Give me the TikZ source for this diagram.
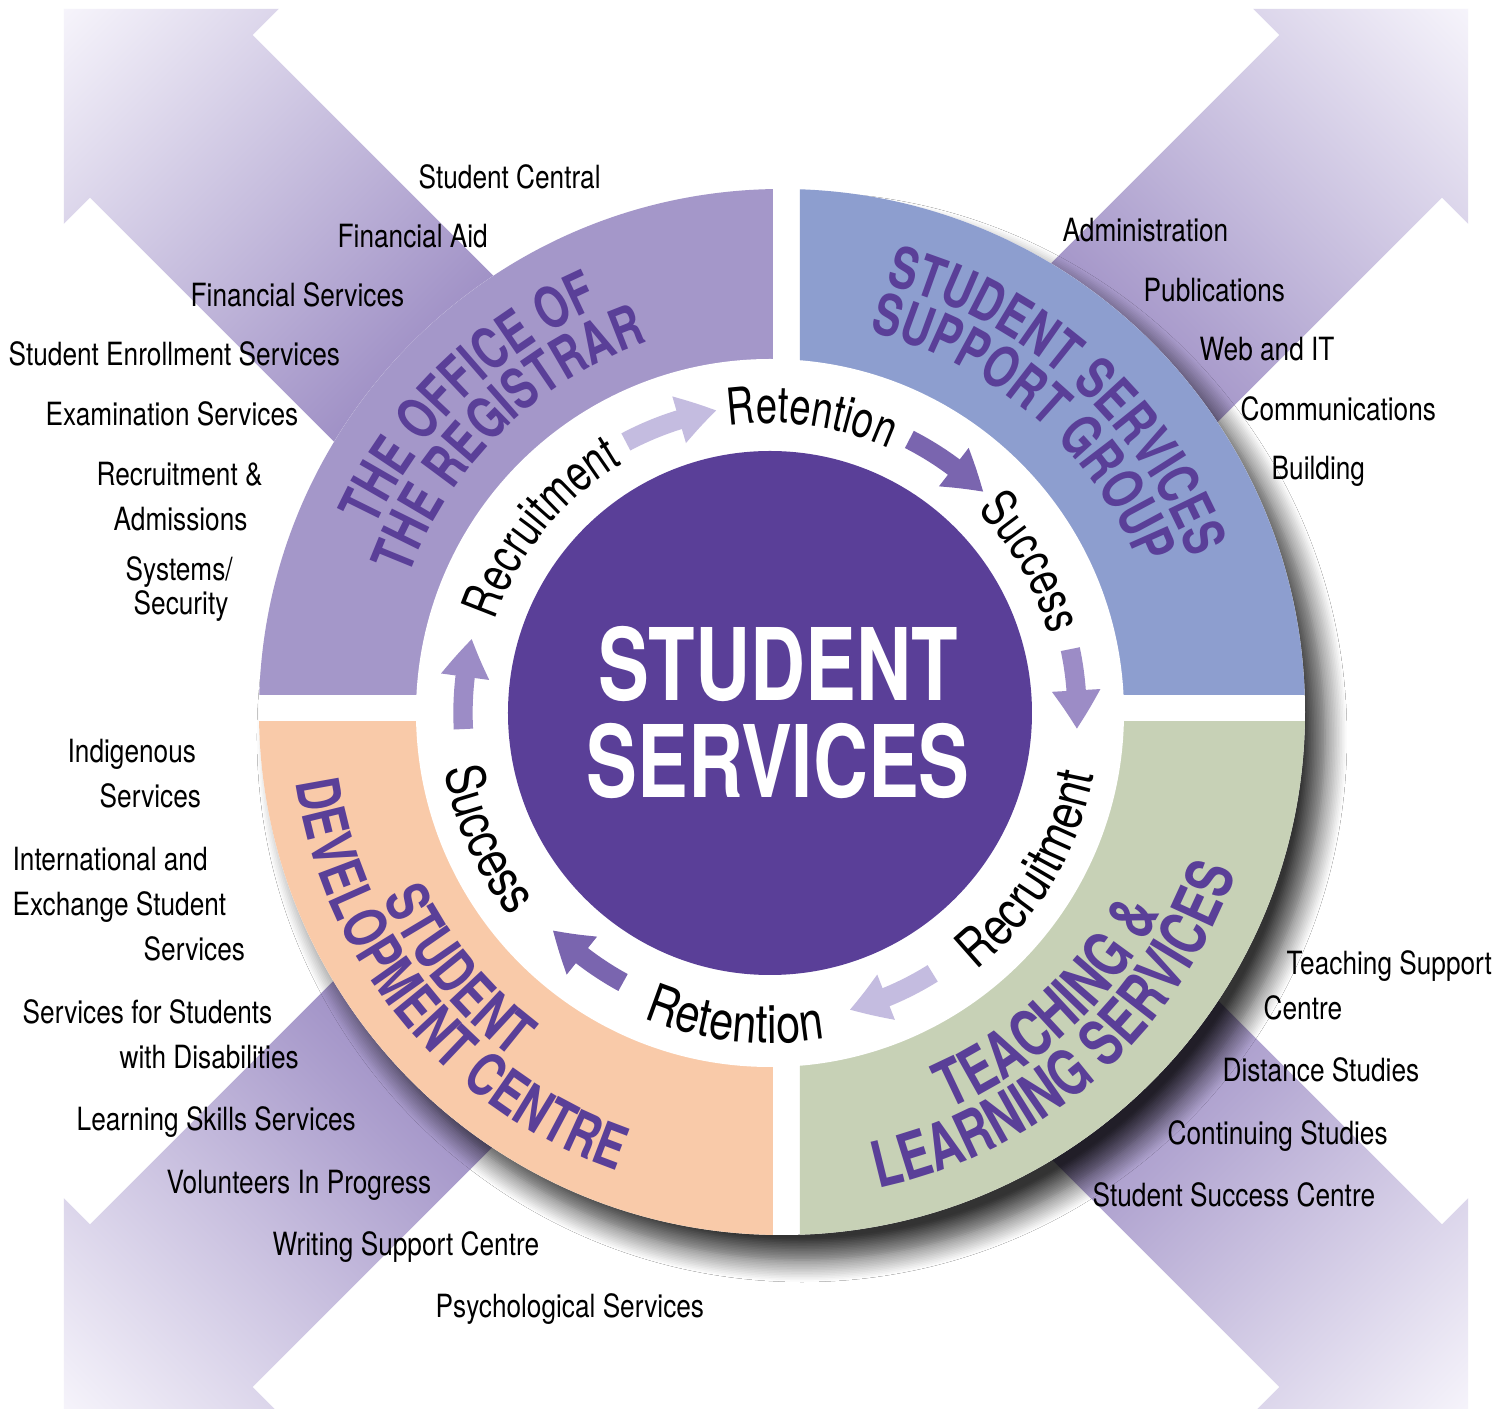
\documentclass[tikz,border=0pt]{standalone}
\usepackage{fontspec}
\setmainfont{TeX Gyre Heros}[FakeStretch=0.82]
\newfontfamily\labelfont{TeX Gyre Heros}[FakeStretch=0.74]
\newfontfamily\wordfont{TeX Gyre Heros}[FakeStretch=0.75]
\newfontfamily\lowwordfont{TeX Gyre Heros}[FakeStretch=0.81]
\newfontfamily\titlefont{TeX Gyre Heros}[FakeStretch=0.76]
\usetikzlibrary{arrows.meta,bending,decorations.text,shadows.blur}

\definecolor{regpurple}{HTML}{A497C9}
\definecolor{supportblue}{HTML}{8D9ECF}
\definecolor{teachgreen}{HTML}{C7D1B6}
\definecolor{devpeach}{HTML}{F9CAA9}
\definecolor{corepurple}{HTML}{5A3F98}
\definecolor{labelpurple}{HTML}{5A3F98}
\definecolor{arrowtip}{HTML}{F6F4FB}
\definecolor{arrowbase}{HTML}{A091C6}
\definecolor{lightarrow}{HTML}{C4BCE0}
\definecolor{midarrow}{HTML}{9C8CC6}
\definecolor{darkarrow}{HTML}{7A65AF}

\newcommand{\lblfmt}{\labelfont\bfseries\fontsize{17}{20}\selectfont}
\newcommand{\lblsmall}{\labelfont\bfseries\fontsize{16.3}{20}\selectfont}
\newcommand{\lblbig}{\labelfont\bfseries\fontsize{18.2}{21}\selectfont}
\newcommand{\wordfmt}{\wordfont\fontsize{14.5}{17}\selectfont}
\newcommand{\lowfmt}{\lowwordfont\fontsize{15.2}{18}\selectfont}

\tikzset{
  item/.style={anchor=base west, inner sep=0pt, font=\fontsize{9.1}{11}\selectfont},
  ringarrow/.style={line width=5.5pt, -{Triangle[width=13pt,length=11pt,bend]}},
}

% text on a clockwise arc (letters face outwards)
\newcommand{\cwtext}[6]{%
  \path[decorate, decoration={text along path, text align=center, text color=#5, text={|#4|#6}}]
    ([shift={(#3+70:#2)}]#1) arc[start angle=#3+70, end angle=#3-70, radius=#2];}
% text on a counter-clockwise arc (letters face the centre)
\newcommand{\ccwtext}[6]{%
  \path[decorate, decoration={text along path, text align=center, text color=#5, text={|#4|#6}}]
    ([shift={(#3-70:#2)}]#1) arc[start angle=#3-70, end angle=#3+70, radius=#2];}
% one of the four big arrows, drawn pointing up and turned
\newcommand{\bigarrow}[1]{%
  \begin{scope}[transform canvas={rotate=#1}]
    \shade[top color=arrowtip, bottom color=arrowbase, middle color=arrowbase]
      (-1.15,0) -- (-1.15,8.41) -- (-1.52,8.41) -- (0,9.93) -- (1.52,8.41) -- (1.15,8.41) -- (1.15,0) -- cycle;
  \end{scope}}

\begin{document}
\begin{tikzpicture}
  \useasboundingbox (-7.66,-6.98) rectangle (7.46,7.11);
  \fill[white] (-7.66,-6.98) rectangle (7.46,7.11);
  \clip (-7.66,-6.98) rectangle (7.46,7.11);
  \coordinate (ci) at (0.04,-0.02);
  \coordinate (co) at (0.16,-0.01);
  \coordinate (lc) at (0.10,-0.015);

  % arrows behind the wheel
  \foreach \a in {45,-45,135,-135} {\bigarrow{\a}}

  % the wheel
  \fill[white, blur shadow={shadow xshift=2mm, shadow yshift=-2.5mm, shadow blur radius=2.2mm, shadow blur steps=14, shadow opacity=80}] (co) circle (5.23);
  \begin{scope} \clip (-6,0.16) rectangle (0.07,6);  \fill[regpurple] (co) circle (5.23); \end{scope}
  \begin{scope} \clip (0.34,0.16) rectangle (6,6);   \fill[supportblue] (co) circle (5.23); \end{scope}
  \begin{scope} \clip (0.34,-0.11) rectangle (6,-6); \fill[teachgreen] (co) circle (5.23); \end{scope}
  \begin{scope} \clip (-6,-0.11) rectangle (0.07,-6); \fill[devpeach] (co) circle (5.23); \end{scope}
  \fill[white] (ci) circle (3.54);
  \fill[corepurple] (ci) circle (2.62);

  \node[align=center, text=white, font=\titlefont\bfseries\fontsize{28.5}{27.6}\selectfont] (title) at (0.12,-0.01) {STUDENT\\SERVICES};

  % unit names
  \cwtext{lc}{4.42}{134.4}{\lblsmall}{labelpurple}{THE OFFICE OF}
  \cwtext{lc}{3.92}{134.4}{\lblsmall}{labelpurple}{THE REGISTRAR}
  \cwtext{lc}{4.42}{48}{\lblsmall}{labelpurple}{STUDENT SERVICES}
  \cwtext{lc}{3.92}{49}{\lblsmall}{labelpurple}{SUPPORT GROUP}
  \ccwtext{lc}{4.33}{-47}{\lblbig}{labelpurple}{TEACHING {\&}}
  \ccwtext{lc}{4.87}{-48.5}{\lblbig}{labelpurple}{LEARNING SERVICES}
  \ccwtext{lc}{4.35}{219}{\lblfmt}{labelpurple}{STUDENT}
  \ccwtext{lc}{4.85}{219.6}{\lblfmt}{labelpurple}{DEVELOPMENT CENTRE}

  % cycle words
  \cwtext{ci}{2.90}{141}{\wordfmt}{black}{Recruitment}
  \cwtext{ci}{2.90}{82}{\wordfmt}{black}{Retention}
  \cwtext{ci}{2.90}{30}{\wordfmt}{black}{Success}
  \ccwtext{ci}{3.30}{-31}{\lowfmt}{black}{Recruitment}
  \ccwtext{ci}{3.30}{-96.5}{\lowfmt}{black}{Retention}
  \ccwtext{ci}{3.30}{204}{\lowfmt}{black}{Success}

  % cycle arrows
  \draw[ringarrow, lightarrow] ([shift={(118:3.07)}]ci) arc[start angle=118, end angle=100, radius=3.07];
  \draw[ringarrow, darkarrow]  ([shift={(63:3.07)}]ci) arc[start angle=63, end angle=46, radius=3.07];
  \draw[ringarrow, midarrow]   ([shift={(12:3.07)}]ci) arc[start angle=12, end angle=-3, radius=3.07];
  \draw[ringarrow, lightarrow] ([shift={(-58:3.07)}]ci) arc[start angle=-58, end angle=-75, radius=3.07];
  \draw[ringarrow, darkarrow]  ([shift={(-118.6:3.07)}]ci) arc[start angle=-118.6, end angle=-135, radius=3.07];
  \draw[ringarrow, midarrow]   ([shift={(183:3.07)}]ci) arc[start angle=183, end angle=166, radius=3.07];

  % registrar services
  \node[item] (central)    at (-3.48,5.22) {Student Central};
  \node[item] (aid)        at (-4.29,4.63) {Financial Aid};
  \node[item] (finance)    at (-5.76,4.04) {Financial Services};
  \node[item] (enrol)      at (-7.58,3.45) {Student Enrollment Services};
  \node[item] (exams)      at (-7.21,2.85) {Examination Services};
  \node[item] (recruit)    at (-6.70,2.25) {Recruitment \&};
  \node[item] (admit)      at (-6.53,1.80) {Admissions};
  \node[item] (systems)    at (-6.41,1.30) {Systems/};
  \node[item] (security)   at (-6.33,0.96) {Security};
  % support group
  \node[item] (admin)      at (2.96,4.69) {Administration};
  \node[item] (pubs)       at (3.77,4.09) {Publications};
  \node[item] (web)        at (4.33,3.50) {Web and IT};
  \node[item] (comms)      at (4.74,2.90) {Communications};
  \node[item] (building)   at (5.05,2.31) {Building};
  % development centre
  \node[item] (indig)      at (-6.99,-0.52) {Indigenous};
  \node[item] (indigb)     at (-6.67,-0.97) {Services};
  \node[item] (intl)       at (-7.54,-1.60) {International and};
  \node[item] (intlb)      at (-7.54,-2.05) {Exchange Student};
  \node[item] (intlc)      at (-6.23,-2.50) {Services};
  \node[item] (disab)      at (-7.44,-3.13) {Services for Students};
  \node[item] (disabb)     at (-6.47,-3.58) {with Disabilities};
  \node[item] (skills)     at (-6.90,-4.20) {Learning Skills Services};
  \node[item] (volunteer)  at (-6.00,-4.83) {Volunteers In Progress};
  \node[item] (writing)    at (-4.94,-5.45) {Writing Support Centre};
  \node[item] (psych)      at (-3.31,-6.07) {Psychological Services};
  % teaching and learning
  \node[item] (teach)      at (5.20,-2.64) {Teaching Support};
  \node[item] (teachb)     at (4.97,-3.09) {Centre};
  \node[item] (distance)   at (4.56,-3.71) {Distance Studies};
  \node[item] (continuing) at (4.01,-4.34) {Continuing Studies};
  \node[item] (success)    at (3.26,-4.96) {Student Success Centre};
\end{tikzpicture}
\end{document}
